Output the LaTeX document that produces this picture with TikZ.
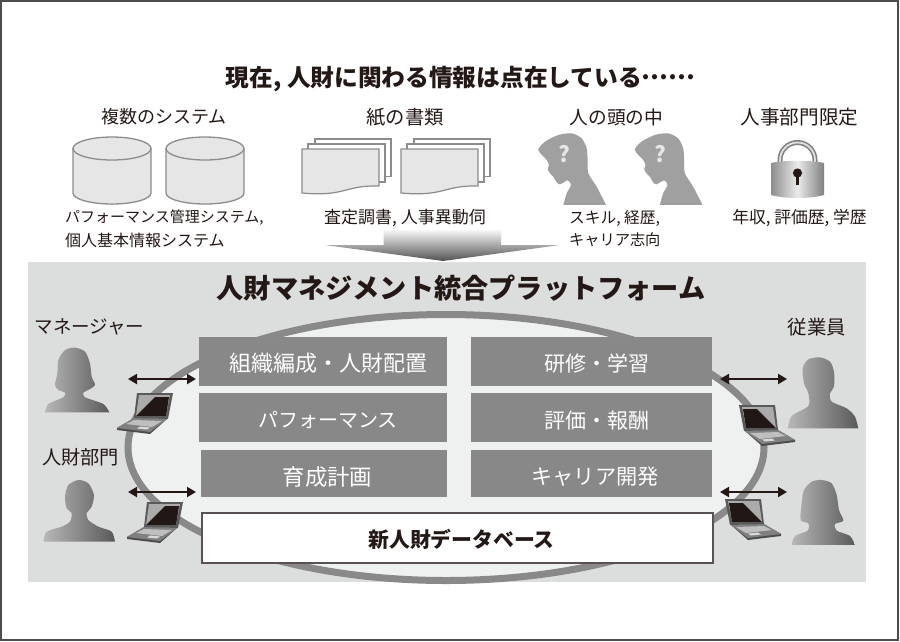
\documentclass[tikz,border=0pt]{standalone}
\usepackage{fontspec}
\setmainfont{Noto Sans CJK JP}
\usetikzlibrary{arrows.meta}
\definecolor{ink}{HTML}{231815}
\definecolor{panelgray}{HTML}{DCDDDD}
\definecolor{ringfill}{HTML}{EFF0F0}
\definecolor{ringline}{HTML}{898989}
\definecolor{boxgray}{HTML}{888888}
\definecolor{iconline}{HTML}{8C8C8C}
\definecolor{iconfill}{HTML}{E6E6E6}
\definecolor{headgray}{HTML}{A0A0A0}
\newcommand{\pxsize}[1]{\fontsize{#1}{#1}\selectfont}
\newcommand{\boxtext}[3]{\hspace*{#1pt}\raisebox{#2pt}{\vphantom{#3}}#3}
\tikzset{
  txt/.style={inner sep=0pt,text=ink,font=\pxsize{#1}},
  txt/.default=15.5,
  lefttxt/.style={txt=#1,anchor=west},
  funcbox/.style={fill=boxgray,draw=none,text=white,inner sep=0pt,font=\pxsize{#1}},
  dbbox/.style={fill=white,draw=ink!75,line width=2pt,inner sep=0pt,text=ink,font=\pxsize{20.8}\bfseries},
  twoway/.style={line width=2pt,draw=ink,{Triangle[length=9pt,width=10pt]}-{Triangle[length=9pt,width=10pt]}},
  person/.style={left color=black!28,right color=black!65,draw=none},
  head/.pic={
    \begin{scope}[x=.3333pt,y=-.3333pt]
      \fill[headgray] plot[smooth,tension=.45] coordinates {(115,240) (125,205) (138,180) (128,166) (105,178) (95,172) (85,155) (75,145) (68,132) (72,120) (65,105) (40,75) (60,50) (100,30) (140,25) (170,40) (185,70) (188,105) (190,145) (215,185) (243,240)} -- cycle;
      \node[inner sep=0pt,text=iconfill,font=\pxsize{22}\bfseries] at (118,87) {?};
    \end{scope}
  },
  laptop/.pic={
    \fill[black!70] (17,25) -- (50,26) -- (33,41) -- (0,37) -- (0,35) -- cycle;
    \fill[black!50] (17,25) -- (50,26) -- (33,39) -- (0,35) -- cycle;
    \fill[black!25] (17,27) -- (45,28) -- (35,34) -- (9,31) -- cycle;
    \fill[black!15] (20,35.5) -- (30,36.5) -- (33,34.5) -- (23,33.5) -- cycle;
    \fill[black!65] (20,0) -- (56,0) -- (51,26) -- (17,25) -- cycle;
    \fill[black!33] (22,2) -- (53,2) -- (49,23) -- (19,23) -- cycle;
    \fill[ink!95!black] (19,23) -- (38,4) -- (52,4) -- (49,23) -- cycle;
  },
}
\begin{document}
\begin{tikzpicture}[x=1pt,y=-1pt]
\useasboundingbox (0,0) rectangle (900,641);
\fill[white] (0,0) rectangle (900,641);
\draw[black!70,line width=1.5pt] (.8,.8) rectangle (897.8,640.2);

% headings
\node[txt=24,font=\pxsize{23.7}\bfseries] (title) at (460.5,79.5) {現在, 人財に関わる情報は点在している\raisebox{.33em}{……}};
\node[txt=18] (c1) at (164,117) {複数のシステム};
\node[txt=19.3] (c2) at (405,117) {紙の書類};
\node[txt=18.7] (c3) at (616.5,117) {人の頭の中};
\node[txt=19.6] (c4) at (799.5,117) {人事部門限定};

% cylinders
\foreach \ox in {0,93}{
  \begin{scope}[shift={(\ox,0)}]
    \draw[draw=iconline,fill=iconfill,line width=1.3pt] (73,148.5) -- (73,193) arc[start angle=180,end angle=0,x radius=39,y radius=11] -- (151,148.5);
    \draw[draw=iconline,fill=iconfill,line width=1.3pt] (112,148.5) ellipse[x radius=39,y radius=11.5];
  \end{scope}
}
% documents
\foreach \ox in {0,99}{
  \begin{scope}[shift={(\ox,0)}]
    \draw[draw=iconline,fill=white,line width=1.2pt] (315,139) rectangle (391,176.5);
    \draw[draw=iconline,fill=white,line width=1.2pt] (308,144) rectangle (385,182);
    \draw[draw=iconline,fill=iconfill,line width=1.2pt] (302,149) -- (379,149) -- (379,186) .. controls (345,185) and (345,197) .. (302,193) -- cycle;
  \end{scope}
}
% heads
\pic at (525,125) {head};
\pic at (621.5,125) {head};
% lock
\draw[draw=black!50,line width=5pt] (780,165) -- (780,160) arc[start angle=180,end angle=360,radius=17.5] -- (815,165);
\draw[draw=black!12,line width=1.8pt] (780,165) -- (780,160) arc[start angle=180,end angle=360,radius=17.5] -- (815,165);
\shade[left color=black!45,right color=black!50,middle color=black!8] (771,163) .. controls (785,160) and (810,160) .. (824,163) -- (824,195) .. controls (810,199) and (785,199) .. (771,195) -- cycle;
\fill[ink] (797.5,173) circle[radius=4.6];
\fill[ink] (795.8,174) rectangle (799.2,185);

% captions
\node[lefttxt=15] (cap1a) at (65,218) {パフォーマンス管理システム,};
\node[lefttxt=16] (cap1b) at (65,240) {個人基本情報システム};
\node[txt=17] (cap2) at (405,218) {査定調書, 人事異動伺};
\node[lefttxt=15.7] (cap3a) at (569,218) {スキル, 経歴,};
\node[lefttxt=15.2] (cap3b) at (569,240) {キャリア志向};
\node[txt=16.8] (cap4) at (799.5,218) {年収, 評価歴, 学歴};

% panel
\fill[panelgray] (28,262) rectangle (866,581.5);
% funnel arrow
\shade[top color=black!3,bottom color=black!68] (383.5,230) -- (501,230) -- (501,245) -- (560,245) -- (443,261) -- (325,245) -- (383.5,245) -- cycle;

% ring
\draw[draw=ringline,fill=ringfill,line width=7pt] (446,447.5) ellipse[x radius=318,y radius=133];

\node[txt=27,font=\pxsize{27.2}\bfseries] (ptitle) at (461,288) {人財マネジメント統合プラットフォーム};

% function boxes
\node[funcbox=22,minimum width=248pt,minimum height=49pt] (f1) at (323,361.5) {\boxtext{10}{4}{組織編成・人財配置}};
\node[funcbox=20,minimum width=248pt,minimum height=49pt] (f2) at (323,417.5) {\boxtext{10}{6}{パフォーマンス}};
\node[funcbox=22.4,minimum width=246pt,minimum height=47pt] (f3) at (324,473.5) {\boxtext{7}{7}{育成計画}};
\node[funcbox=21,minimum width=241pt,minimum height=49pt] (f4) at (591.5,361.5) {\boxtext{10}{4}{研修・学習}};
\node[funcbox=21,minimum width=241pt,minimum height=49pt] (f5) at (591.5,417.5) {\boxtext{11}{6}{評価・報酬}};
\node[funcbox=21.2,minimum width=241pt,minimum height=47pt] (f6) at (591.5,473.5) {\boxtext{7}{7}{キャリア開発}};
\node[dbbox,minimum width=511pt,minimum height=50pt] (db) at (457,537.5) {\boxtext{9}{3}{新人財データベース}};

% side labels
\node[txt=18.5] (sm) at (89.5,327) {マネージャー};
\node[txt=19.2] (sh) at (80.5,457) {人財部門};
\node[txt=19.4] (se) at (817,327) {従業員};

% people, left
\begin{scope}[shift={(20,300)},x=.3333pt,y=-.3333pt]
  \shade[person] plot[smooth,tension=.45] coordinates {(75,337) (85,312) (130,292) (135,278) (115,270) (105,255) (112,220) (115,180) (135,150) (165,143) (195,155) (210,190) (215,230) (225,255) (205,270) (190,278) (195,292) (250,312) (268,337)} -- cycle;
  \shade[person] plot[smooth,tension=.45] coordinates {(70,725) (80,695) (125,680) (150,665) (155,640) (140,625) (135,590) (145,555) (175,540) (205,550) (222,585) (215,620) (200,640) (205,660) (235,680) (275,695) (285,725)} -- cycle;
\end{scope}
% people, right
\begin{scope}[shift={(680,300)},x=.3333pt,y=-.3333pt]
  \shade[person] plot[smooth,tension=.45] coordinates {(323,385) (335,348) (385,318) (385,280) (372,250) (368,205) (385,178) (420,172) (450,185) (462,215) (462,260) (450,280) (455,305) (500,325) (525,350) (535,385)} -- cycle;
  \shade[person] plot[smooth,tension=.45] coordinates {(335,735) (345,708) (383,692) (385,670) (362,660) (365,610) (372,570) (395,545) (425,540) (455,550) (470,585) (477,630) (490,662) (465,672) (470,692) (510,708) (525,735)} -- cycle;
\end{scope}

% laptops
\pic at (117,393) {laptop};
\pic at (127,502) {laptop};
\pic[xscale=-1] at (795,405) {laptop};
\pic[xscale=-1] at (781,499) {laptop};

% two-way arrows
\coordinate (a1) at (128,379); \coordinate (b1) at (196,379);
\coordinate (a2) at (128,492); \coordinate (b2) at (196,492);
\coordinate (a3) at (720,379); \coordinate (b3) at (787,379);
\coordinate (a4) at (720,492); \coordinate (b4) at (787,492);
\draw[twoway] (a1) -- (b1);
\draw[twoway] (a2) -- (b2);
\draw[twoway] (a3) -- (b3);
\draw[twoway] (a4) -- (b4);
\end{tikzpicture}
\end{document}
